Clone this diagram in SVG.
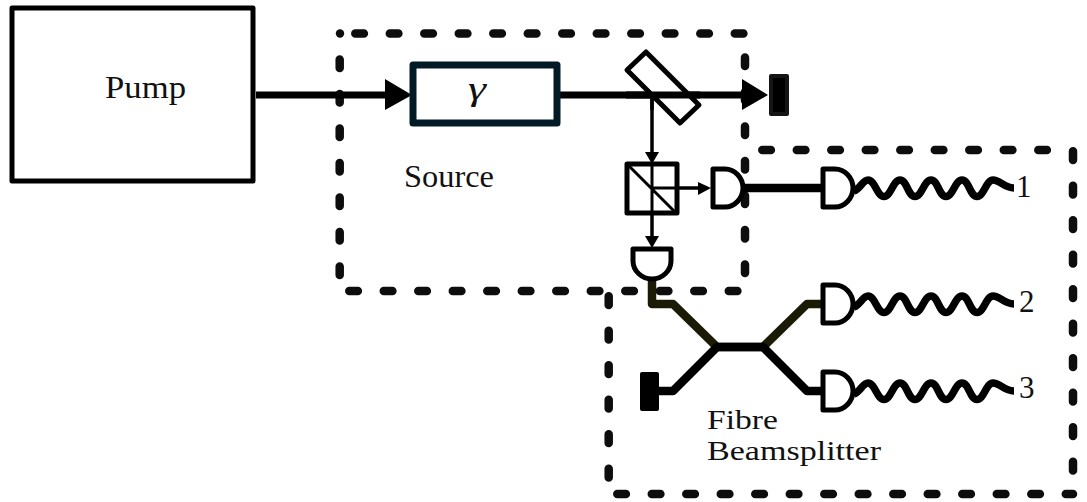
<svg xmlns="http://www.w3.org/2000/svg" width="1087" height="502" viewBox="0 0 1087 502">
<style>
text{font-family:"Liberation Serif","Times New Roman",serif;font-size:31px;fill:#111}
.dash{fill:none;stroke:#0d0d0d;stroke-width:8.5;stroke-linecap:round;stroke-dasharray:8.6 25.9}
.beam{fill:none;stroke:#000;stroke-width:7}
.thin{fill:none;stroke:#000;stroke-width:3.5}
.det{fill:#fff;stroke:#000;stroke-width:5;stroke-linejoin:round}
.fib{fill:none;stroke:#000;stroke-width:8.5;stroke-linejoin:round}
.wave{fill:none;stroke:#000;stroke-width:7.5}
.head{fill:#000}
.fb{font-size:27.5px}
</style>
<defs>
<path id="d" d="M0 -19H12C22 -19 30 -10 30 0C30 10 22 19 12 19H0Z"/>
<path id="w" d="M854 3C860 1 863 -8 868 -8C875 -8 877 8.5 884 8.5C891 8.5 893 -8 900 -8C907 -8 908 8.5 915 8.5C922 8.5 924 -8 931 -8C938 -8 939 8.5 946 8.5C953 8.5 955 -8 962 -8C969 -8 970 8.5 977 8.5C984 8.5 986 -8 993 -8C1000 -8 1004 0 1014 0"/>
</defs>
<g id="pump"><rect x="12" y="8" width="241" height="173" fill="#fff" stroke="#000" stroke-width="5" stroke-linejoin="round"/><text x="105" y="98" textLength="81" lengthAdjust="spacingAndGlyphs">Pump</text></g>
<g id="source-box">
<circle cx="340" cy="33.5" r="4.2" fill="#0d0d0d"/>
<path class="dash" d="M355.3 33.5H745"/>
<path class="dash" d="M745 57.5V285"/>
<path class="dash" d="M349.3 291H745"/>
<path class="dash" d="M339.7 59.5V282"/>
<text x="404" y="187" textLength="90" lengthAdjust="spacingAndGlyphs">Source</text></g>
<g id="fibre-box">
<path class="dash" d="M762.3 150H1052"/>
<path class="dash" d="M1073 151.3V480"/>
<path class="dash" d="M617.3 494H1073"/>
<path class="dash" d="M608.7 296.3V485"/>
<text class="fb" x="707" y="428.5" textLength="71" lengthAdjust="spacingAndGlyphs">Fibre</text>
<text class="fb" x="707" y="460" textLength="174" lengthAdjust="spacingAndGlyphs">Beamsplitter</text></g>
<g id="connectors">
<path class="beam" d="M256 95H390"/>
<path class="head" d="M385 79L412 95L385 110Z"/>
<path class="beam" d="M560 95H745"/>
<path class="head" d="M742 79L768 95L742 110Z"/>
<path class="thin" d="M652 95V155"/>
<path class="head" d="M645 152H659L652 164Z"/>
<path class="thin" d="M652 213V240"/>
<path class="head" d="M645 236H659L652 248Z"/>
<path class="thin" d="M652 188H700"/>
<path class="head" d="M698 182L711 188L698 195Z"/>
<path class="fib" d="M743 188H823" />
<path class="fib" style="stroke:#1a1a05" d="M652 279V304H673L717 347H763L807 304H823"/>
<path class="fib" d="M659 391H673L717 347H763L807 391H823"/>
</g>
<g id="gamma-cell"><rect x="413" y="65" width="144" height="58" fill="#fff" stroke="#021a26" stroke-width="7" stroke-linejoin="round"/><text x="468" y="100" style="font-style:italic;font-size:34px" textLength="18" lengthAdjust="spacingAndGlyphs">γ</text></g>
<g id="plate"><path d="M646 52L627 70L680 123L699 105Z" fill="#fff" stroke="#000" stroke-width="5" stroke-linejoin="round"/><path class="beam" d="M626 95H700"/><path class="thin" d="M652 95V110"/></g>
<g id="dump-top"><rect x="771" y="76" width="16" height="38" fill="#000" stroke="#151515" stroke-width="4" stroke-linejoin="round"/></g>
<g id="cube"><rect x="627" y="164" width="50" height="49" fill="#fff" stroke="#000" stroke-width="5" stroke-linejoin="round"/><path class="thin" style="stroke-width:3" d="M629 166L675 212M652 164V213M652 188H677"/></g>
<g id="det-h" class="det"><use href="#d" x="713" y="188"/></g>
<g id="det-v" class="det"><use href="#d" transform="translate(652 249) rotate(90)"/></g>
<g id="det-1" class="det"><use href="#d" x="823" y="188"/></g>
<g id="det-2" class="det"><use href="#d" x="823" y="304"/></g>
<g id="det-3" class="det"><use href="#d" x="823" y="391"/></g>
<g id="dump-bottom"><rect x="640" y="372" width="19" height="39" rx="2" fill="#000"/></g>
<g id="out-1"><use href="#w" class="wave" y="188"/><text x="1016" y="197">1</text></g>
<g id="out-2"><use href="#w" class="wave" y="304"/><text x="1019" y="312">2</text></g>
<g id="out-3"><use href="#w" class="wave" y="391"/><text x="1019" y="398">3</text></g>
</svg>
